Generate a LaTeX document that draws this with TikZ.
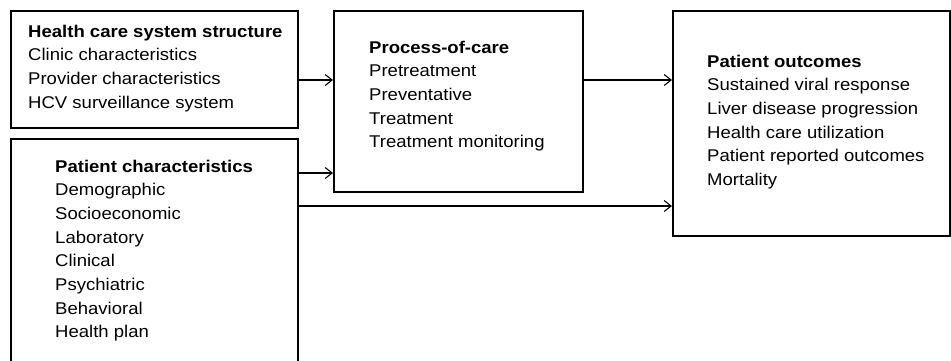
\documentclass[tikz,border=0pt]{standalone}
\usepackage{fontspec}
\setmainfont[FakeStretch=1.09]{Liberation Sans}
\usetikzlibrary{arrows.meta}
\tikzset{
  box/.style={draw, line width=1.6pt, inner sep=0pt, anchor=north west},
  txt/.style={anchor=base west, align=left, inner sep=0pt, font=\fontsize{17}{23.7}\selectfont},
  arr/.style={-{Straight Barb[length=7pt,width=11pt,line width=1.1pt]}, line width=1.2pt}
}
\begin{document}
\begin{tikzpicture}[x=1pt,y=-1pt]
\useasboundingbox (0,0) rectangle (951,360);
\node[box, minimum width=287pt, minimum height=117pt] (A) at (10,10) {};
\node[box, minimum width=287pt, minimum height=232pt] (B) at (10,138) {};
\node[box, minimum width=249pt, minimum height=181pt] (C) at (333,10) {};
\node[box, minimum width=277pt, minimum height=225pt] (D) at (672,10) {};
\node[txt] (At) at (28,108.1) {\textbf{Health care system structure}\\Clinic characteristics\\Provider characteristics\\HCV surveillance system};
\node[txt] (Bt) at (55,337.9) {\textbf{Patient characteristics}\\Demographic\\Socioeconomic\\Laboratory\\Clinical\\Psychiatric\\Behavioral\\Health plan};
\node[txt] (Ct) at (369,147.8) {\textbf{Process-of-care}\\Pretreatment\\Preventative\\Treatment\\Treatment monitoring};
\node[txt] (Dt) at (707,185.5) {\textbf{Patient outcomes}\\Sustained viral response\\Liver disease progression\\Health care utilization\\Patient reported outcomes\\Mortality};
\coordinate (y1) at (0,80);
\coordinate (y2) at (0,173);
\coordinate (y3) at (0,206);
\draw[arr] (A.east |- y1) -- (C.west |- y1);
\draw[arr] (B.east |- y2) -- (C.west |- y2);
\draw[arr] (C.east |- y1) -- (D.west |- y1);
\draw[arr] (B.east |- y3) -- (D.west |- y3);
\end{tikzpicture}
\end{document}
